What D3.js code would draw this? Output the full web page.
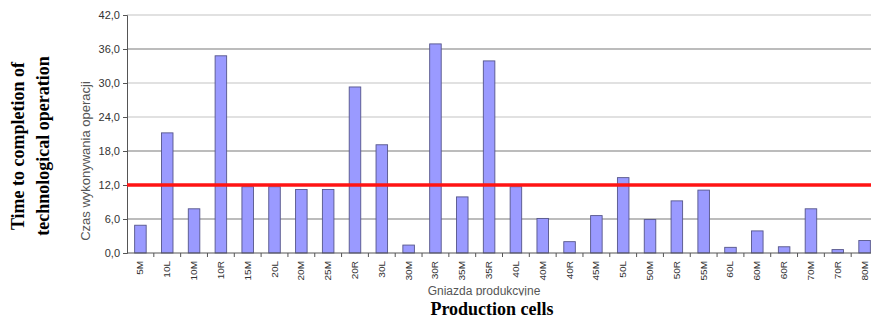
<!DOCTYPE html>
<html><head><meta charset="utf-8">
<script src="https://cdn.jsdelivr.net/npm/d3@7/dist/d3.min.js"></script>
<style>body{margin:0;background:#fff;}svg{display:block;}</style>
</head><body>
<script>
const categories = ["5M","10L","10M","10R","15M","20L","20M","25M","20R","30L","30M","30R","35M","35R","40L","40M","40R","45M","50L","50M","50R","55M","60L","60M","60R","70M","70R","80M"];
const values = [4.9,21.2,7.8,34.8,11.7,11.7,11.2,11.2,29.3,19.1,1.4,36.9,9.9,33.9,11.7,6.1,2.0,6.6,13.3,5.9,9.2,11.1,1.0,3.9,1.1,7.8,0.6,2.2];
const yTicks = [0,6,12,18,24,30,36,42];
const limitValue = 12;
const yTitle = "Czas wykonywania operacji";
const xTitle = "Gniazda produkcyjne";
const outerY = ["Time to completion of","technological operation"];
const outerX = "Production cells";

const W=871,H=320;
const svg=d3.select("body").append("svg").attr("width",W).attr("height",H);
const x=d3.scaleBand().domain(categories).range([127,878]).paddingInner(0.57).paddingOuter(0.285);
const y=d3.scaleLinear().domain([0,42]).range([253,15]);

// gridlines
svg.append("g").selectAll("line").data(yTicks.filter(d=>d>0)).join("line")
  .attr("x1",127).attr("x2",W).attr("y1",d=>y(d)).attr("y2",d=>y(d))
  .attr("stroke",d=>(d===36||d===18||d===6)?"#7a7a7a":"#c4c4c4").attr("stroke-width",1.2);

// y axis
const ya=svg.append("g").attr("transform","translate(127,0)")
  .call(d3.axisLeft(y).tickValues(yTicks).tickSize(4).tickPadding(3).tickFormat(d=>d3.format(".1f")(d).replace(".",",")));
ya.select(".domain").attr("stroke","#555");
ya.selectAll(".tick line").attr("stroke","#555");
ya.selectAll("text").attr("font-family","Liberation Sans, Arial, sans-serif").attr("font-size",11).attr("fill","#333");

// bars
svg.append("g").selectAll("rect").data(values).join("rect")
  .attr("x",(d,i)=>x(categories[i])).attr("width",x.bandwidth())
  .attr("y",d=>y(d)).attr("height",d=>y(0)-y(d))
  .attr("fill","#9a9aff").attr("stroke","#55558a").attr("stroke-width",0.9);

// x axis
const step=x.step();
const xa=svg.append("g").attr("transform","translate(0,253)");
xa.append("line").attr("x1",127).attr("x2",W).attr("stroke","#555");
xa.selectAll("line.tk").data(categories).join("line").attr("class","tk")
  .attr("x1",d=>x(d)+x.bandwidth()/2+step/2).attr("x2",d=>x(d)+x.bandwidth()/2+step/2)
  .attr("y1",0).attr("y2",4).attr("stroke","#555");
xa.selectAll("text").data(categories).join("text")
  .attr("transform",d=>`translate(${x(d)+x.bandwidth()/2+3},8) rotate(-90) scale(1,0.85)`)
  .attr("text-anchor","end").attr("font-family","Liberation Sans, Arial, sans-serif")
  .attr("font-size",10).attr("fill","#333").text(d=>d);

// red limit line
svg.append("line").attr("x1",127).attr("x2",W).attr("y1",y(limitValue)).attr("y2",y(limitValue))
  .attr("stroke","#ff1414").attr("stroke-width",3.5);

// inner titles
svg.append("text").attr("transform","translate(90,161) rotate(-90)").attr("text-anchor","middle")
  .attr("font-family","Liberation Sans, Arial, sans-serif").attr("font-size",13).attr("fill","#555").text(yTitle);
svg.append("text").attr("x",484).attr("y",295).attr("text-anchor","middle")
  .attr("font-family","Liberation Sans, Arial, sans-serif").attr("font-size",12).attr("fill","#555").text(xTitle);
svg.append("rect").attr("x",300).attr("y",295.5).attr("width",400).attr("height",24.5).attr("fill","#fff");

// outer titles
svg.append("text").attr("x",492).attr("y",315).attr("text-anchor","middle")
  .attr("font-family","Liberation Serif, Times New Roman, serif").attr("font-weight","bold").attr("font-size",18).attr("fill","#000").text(outerX);
outerY.forEach((t,i)=>{
  svg.append("text").attr("transform",`translate(${24+i*25},146) rotate(-90)`).attr("text-anchor","middle")
    .attr("font-family","Liberation Serif, Times New Roman, serif").attr("font-weight","bold").attr("font-size",18).attr("fill","#000").text(t);
});
</script>
</body></html>
